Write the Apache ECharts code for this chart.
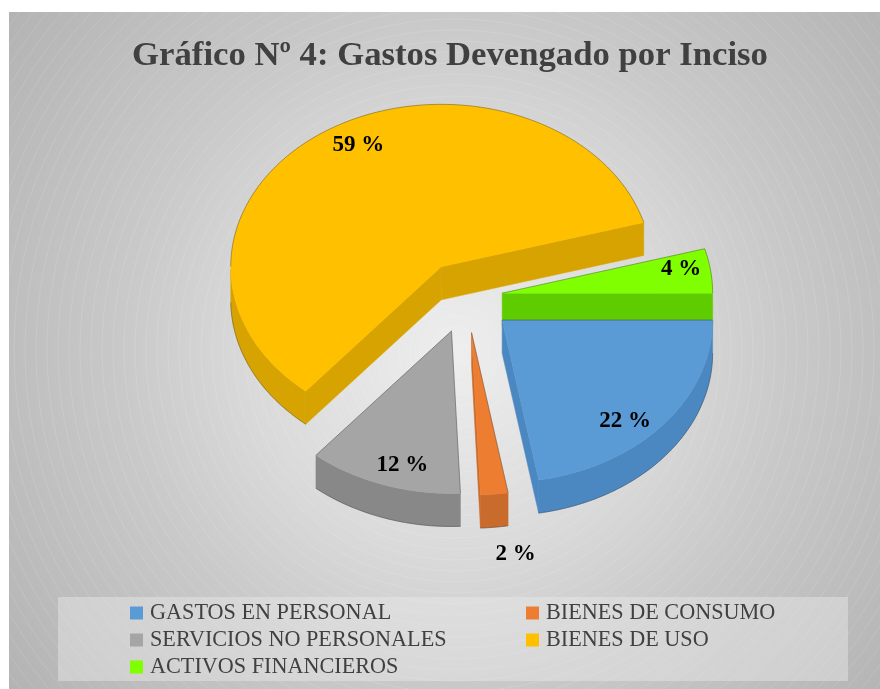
<!DOCTYPE html>
<html>
<head>
<meta charset="utf-8">
<style>
  html, body { margin: 0; padding: 0; background: #fff; }
  #chart { width: 880px; height: 689px; }
</style>
<script src="https://cdn.jsdelivr.net/npm/echarts@6/dist/echarts.min.js"></script>
</head>
<body>
<div id="chart"></div>
<script>
// chart data
const categories = ['GASTOS EN PERSONAL', 'BIENES DE CONSUMO', 'SERVICIOS NO PERSONALES', 'BIENES DE USO', 'ACTIVOS FINANCIEROS']
const shares = [22.2, 2.1, 11.8, 59.4, 4.4]
const tickLabels = ['22 %', '2 %', '12 %', '59 %', '4 %']

// styling, same order as categories
const topColors = ['#5b9bd5', '#ed7d31', '#a5a5a5', '#ffc000', '#7fff00']
const sideColors = ['#4b87c0', '#c96b2c', '#888888', '#d6a300', '#5fcc00']
const explode = [46.5, 46.5, 46.5, 46.5, 36]
const labelOffset = [[123, 101], [44, 221], [-49, 134], [-83, -122], [179, -24]]
const drawOrder = [3, 4, 2, 1, 0]

// the pie is an ellipse seen from above
const cx = 466.5, cy = 297, rx = 210.5, ry = 162.5, depth = 33

const total = shares.reduce((a, b) => a + b, 0)
const startAngle = []
let acc = 0
shares.forEach(v => {
  startAngle.push(acc)
  acc += v / total * 360
})

function rim(ox, oy, deg) {
  const a = deg * Math.PI / 180
  return [ox + rx * Math.cos(a), oy + ry * Math.sin(a)]
}

function renderSlice(i, api) {
  const a0 = startAngle[i]
  const a1 = a0 + api.value(0) / total * 360
  const mid = (a0 + a1) / 2 * Math.PI / 180
  const ox = cx + explode[i] * Math.cos(mid)
  const oy = cy + explode[i] * Math.sin(mid) * ry / rx
  const arc = []
  for (let d = a0; d < a1; d += 1) arc.push(rim(ox, oy, d))
  arc.push(rim(ox, oy, a1))

  const children = []
  const side = { fill: sideColors[i], stroke: sideColors[i], lineWidth: 0.5 }
  const edge = { fill: 'none', stroke: 'rgba(60,60,60,.6)', lineWidth: 0.7 }
  const wall = (p, q) => children.push({
    type: 'polygon',
    shape: { points: [p, q, [q[0], q[1] + depth], [p[0], p[1] + depth]] },
    style: side
  })
  const startVisible = Math.cos(a0 * Math.PI / 180) < 0
  const endVisible = Math.cos(a1 * Math.PI / 180) > 0
  // cut faces, only those turned towards the viewer
  if (startVisible) wall([ox, oy], arc[0])
  if (endVisible) wall([ox, oy], arc[arc.length - 1])
  // outer wall, front half of the rim only
  const front = arc.filter(p => p[1] >= oy)
  if (front.length > 1) {
    const lower = front.map(p => [p[0], p[1] + depth]).reverse()
    children.push({ type: 'polygon', shape: { points: front.concat(lower) }, style: side })
    children.push({ type: 'polyline', shape: { points: lower }, style: edge })
  }
  // top face
  children.push({
    type: 'polygon',
    shape: { points: [[ox, oy]].concat(arc) },
    style: { fill: topColors[i], stroke: topColors[i], lineWidth: 0.4 }
  })
  // thin outline on the edges turned away from the viewer
  const back = arc.filter(p => p[1] < oy)
  if (back.length > 1) children.push({ type: 'polyline', shape: { points: back }, style: edge })
  if (!startVisible) children.push({ type: 'polyline', shape: { points: [[ox, oy], arc[0]] }, style: edge })
  if (!endVisible) children.push({ type: 'polyline', shape: { points: [[ox, oy], arc[arc.length - 1]] }, style: edge })
  children.push({
    type: 'text',
    x: ox + labelOffset[i][0],
    y: oy + labelOffset[i][1],
    style: {
      text: tickLabels[i],
      fill: '#000',
      font: 'bold 23px "Liberation Serif"',
      align: 'center',
      verticalAlign: 'middle'
    }
  })
  return { type: 'group', children }
}

// backdrop with concentric rings
const bgX = 455, bgY = 350
const backdrop = [{
  type: 'rect',
  silent: true,
  shape: { x: 9, y: 12, width: 871, height: 677 },
  style: {
    fill: new echarts.graphic.RadialGradient(0.512, 0.501, 0.83, [
      { offset: 0, color: '#eeeeee' },
      { offset: 0.36, color: '#dadada' },
      { offset: 0.59, color: '#c9c9c9' },
      { offset: 1, color: '#b3b3b3' }
    ])
  }
}]
const rings = []
for (let r = 12; r < 600; r += 11) {
  rings.push({
    type: 'circle',
    silent: true,
    shape: { cx: bgX, cy: bgY, r },
    style: { fill: 'none', stroke: 'rgba(255,255,255,.24)', lineWidth: 0.5 }
  })
}
const ringGroup = {
  type: 'group',
  silent: true,
  clipPath: { type: 'rect', shape: { x: 9, y: 12, width: 871, height: 677 } },
  children: rings
}
const legendBox = {
  type: 'rect',
  silent: true,
  shape: { x: 58, y: 597, width: 790, height: 84 },
  style: { fill: 'rgba(235,235,235,.42)' }
}

const legendBase = {
  orient: 'vertical',
  icon: 'rect',
  itemWidth: 13,
  itemHeight: 13,
  itemGap: 5,
  selectedMode: false,
  textStyle: { fontFamily: 'Liberation Serif', fontSize: 22.2, color: '#404040', padding: [0, 0, 0, 2] }
}

const chart = echarts.init(document.getElementById('chart'), null, { renderer: 'canvas' })
chart.setOption({
  animation: false,
  backgroundColor: '#fff',
  title: {
    text: 'Gráfico Nº 4: Gastos Devengado por Inciso',
    left: 445,
    top: 34,
    textAlign: 'center',
    textStyle: { fontFamily: 'Liberation Serif', fontSize: 34.7, fontWeight: 'bold', color: '#404040' }
  },
  legend: [
    Object.assign({}, legendBase, { left: 125, top: 597, data: [categories[0], categories[2], categories[4]] }),
    Object.assign({}, legendBase, { left: 521, top: 597, data: [categories[1], categories[3]] })
  ],
  graphic: { elements: [{ type: 'group', silent: true, z: -1, children: backdrop.concat([ringGroup, legendBox]) }] },
  series: drawOrder.map(i => ({
    type: 'custom',
    name: categories[i],
    coordinateSystem: 'none',
    z: 2,
    itemStyle: { color: topColors[i] },
    data: [[shares[i]]],
    renderItem: (params, api) => renderSlice(i, api)
  }))
})
window.addEventListener('resize', function () {
  chart.resize()
})
</script>
</body>
</html>
